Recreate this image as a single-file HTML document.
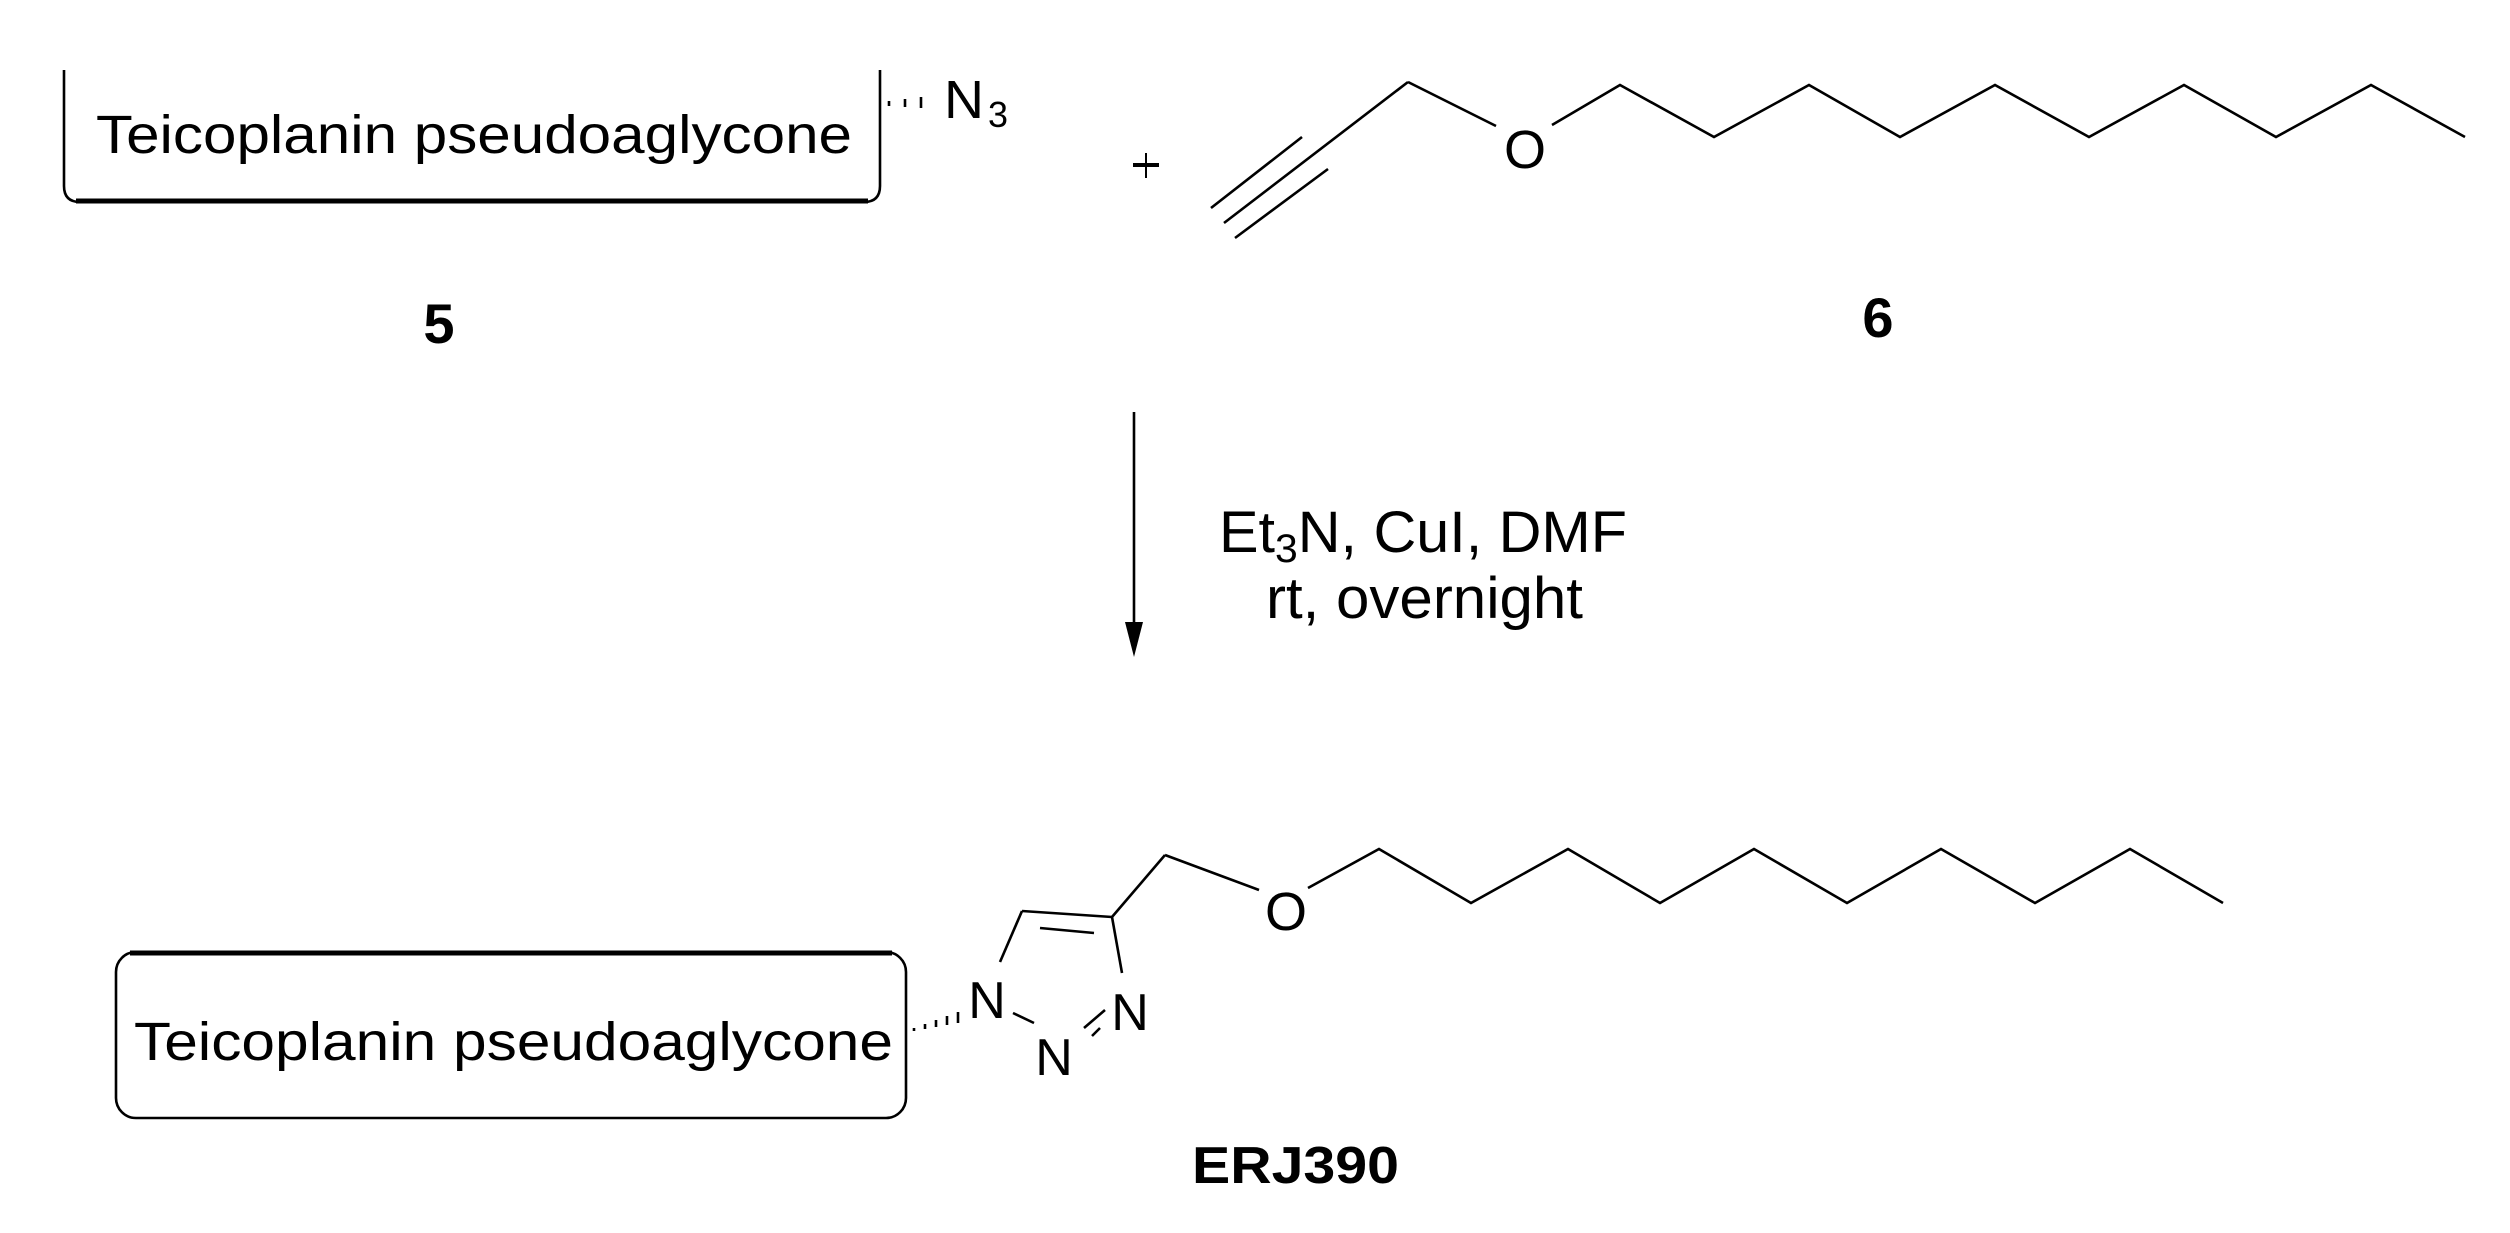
<!DOCTYPE html>
<html><head><meta charset="utf-8"><style>html,body{margin:0;padding:0;background:#fff}svg{display:block}</style></head>
<body>
<svg width="2510" height="1233" viewBox="0 0 2510 1233" xmlns="http://www.w3.org/2000/svg" font-family="'Liberation Sans', sans-serif" fill="#000">
<g fill="none" stroke="#000" stroke-width="2.6" stroke-linecap="butt" stroke-linejoin="miter">
<!-- top box -->
<path d="M64,70 V186 Q64,202 80,202 H864 Q880,202 880,186 V70"/>
<line x1="76" y1="201" x2="868" y2="201" stroke-width="5"/>
<!-- top hash -->
<line x1="889" y1="101" x2="889" y2="106"/>
<line x1="905" y1="99" x2="905" y2="107"/>
<line x1="921" y1="97" x2="921" y2="108"/>
<!-- plus -->
<line x1="1133" y1="165" x2="1159" y2="165" stroke-width="4"/>
<line x1="1146" y1="153" x2="1146" y2="178" stroke-width="2"/>
<!-- alkyne -->
<line x1="1408" y1="82" x2="1224" y2="223"/>
<line x1="1302" y1="137" x2="1211" y2="208"/>
<line x1="1328" y1="169" x2="1235" y2="238"/>
<line x1="1408" y1="82" x2="1496" y2="126"/>
<polyline points="1552,125 1620,85 1714,137 1809,85 1900,137 1995,85 2089,137 2184,85 2276,137 2371,85 2465,137"/>
<!-- arrow -->
<line x1="1134" y1="412" x2="1134" y2="630"/>
<!-- bottom box -->
<rect x="116" y="952" width="790" height="166" rx="20" ry="20"/>
<line x1="130" y1="953" x2="892" y2="953" stroke-width="5"/>
<!-- bottom hash -->
<line x1="914" y1="1028" x2="914" y2="1031"/>
<line x1="925" y1="1024" x2="925" y2="1029"/>
<line x1="936" y1="1020" x2="936" y2="1027"/>
<line x1="947" y1="1016" x2="947" y2="1025"/>
<line x1="958" y1="1012" x2="958" y2="1023"/>
<!-- triazole -->
<line x1="1022" y1="911" x2="1000" y2="962"/>
<line x1="1022" y1="911" x2="1112" y2="917"/>
<line x1="1040" y1="928" x2="1094" y2="933"/>
<line x1="1112" y1="917" x2="1122" y2="973"/>
<line x1="1013" y1="1013" x2="1034" y2="1023"/>
<line x1="1084" y1="1028" x2="1105" y2="1010"/>
<line x1="1092" y1="1036" x2="1100" y2="1028"/>
<line x1="1112" y1="917" x2="1165" y2="855"/>
<line x1="1165" y1="855" x2="1259" y2="890"/>
<polyline points="1308,888 1379,849 1471,903 1568,849 1660,903 1754,849 1847,903 1941,849 2035,903 2130,849 2223,903"/>
</g>
<polygon points="1125,622 1143,622 1134,657"/>
<!-- texts -->
<text x="96" y="153" font-size="54" textLength="756" lengthAdjust="spacingAndGlyphs">Teicoplanin pseudoaglycone</text>
<text x="944" y="118" font-size="54" textLength="40" lengthAdjust="spacingAndGlyphs">N</text>
<text x="988" y="127" font-size="36" textLength="20" lengthAdjust="spacingAndGlyphs">3</text>
<text x="1525" y="168" font-size="54" text-anchor="middle">O</text>
<text x="439" y="343" font-size="56" font-weight="bold" text-anchor="middle">5</text>
<text x="1878" y="337" font-size="56" font-weight="bold" text-anchor="middle">6</text>
<text x="1219" y="552" font-size="58" textLength="408" lengthAdjust="spacingAndGlyphs">Et<tspan font-size="40" dy="10">3</tspan><tspan dy="-10">N, CuI, DMF</tspan></text>
<text x="1266" y="618" font-size="58" textLength="317" lengthAdjust="spacingAndGlyphs">rt, overnight</text>
<text x="134" y="1060" font-size="54" textLength="759" lengthAdjust="spacingAndGlyphs">Teicoplanin pseudoaglycone</text>
<text x="987" y="1018" font-size="52" text-anchor="middle">N</text>
<text x="1054" y="1075" font-size="52" text-anchor="middle">N</text>
<text x="1130" y="1030" font-size="52" text-anchor="middle">N</text>
<text x="1286" y="930" font-size="54" text-anchor="middle">O</text>
<text x="1192" y="1183" font-size="52" font-weight="bold" textLength="207" lengthAdjust="spacingAndGlyphs">ERJ390</text>
</svg>
</body></html>
